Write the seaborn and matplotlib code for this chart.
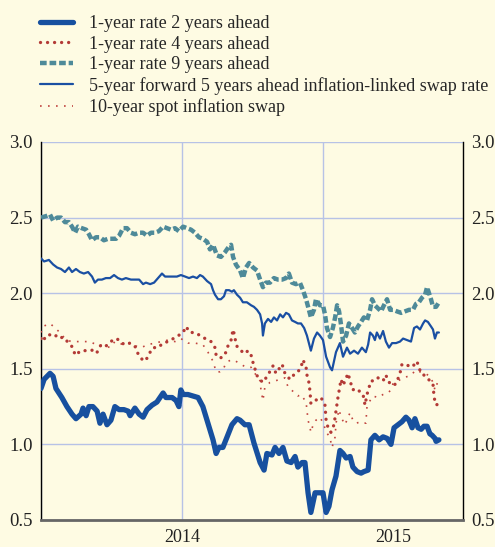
import matplotlib
matplotlib.use("Agg")
import matplotlib.pyplot as plt
import seaborn as sns
import pandas as pd

# time axis: years after 1 Jan 2014
t_2y = [0.000, 0.011, 0.032, 0.043, 0.053, 0.074, 0.092, 0.110, 0.124, 0.142, 0.149, 0.160, 0.170, 0.184,
        0.199, 0.209, 0.220, 0.234, 0.248, 0.262, 0.277, 0.294, 0.309, 0.316, 0.333, 0.348, 0.362, 0.376,
        0.394, 0.411, 0.433, 0.443, 0.465, 0.479, 0.489, 0.496, 0.504, 0.521, 0.539, 0.557, 0.574, 0.592,
        0.610, 0.621, 0.631, 0.645, 0.660, 0.677, 0.695, 0.706, 0.723, 0.738, 0.755, 0.777, 0.791, 0.801,
        0.819, 0.830, 0.844, 0.858, 0.872, 0.887, 0.901, 0.911, 0.926, 0.936, 0.947, 0.957, 0.972, 0.989,
        1.000, 1.011, 1.021, 1.032, 1.046, 1.060, 1.071, 1.082, 1.096, 1.106, 1.121, 1.135, 1.145, 1.160,
        1.170, 1.184, 1.199, 1.213, 1.227, 1.241, 1.252, 1.266, 1.280, 1.294, 1.305, 1.316, 1.326, 1.337,
        1.348, 1.358, 1.369, 1.379, 1.387, 1.397, 1.401, 1.411]
rate_2y = [1.37, 1.43, 1.47, 1.45, 1.37, 1.31, 1.25, 1.20, 1.17, 1.20, 1.24, 1.19, 1.25, 1.25,
           1.22, 1.14, 1.20, 1.13, 1.16, 1.25, 1.23, 1.23, 1.22, 1.19, 1.24, 1.20, 1.18, 1.23,
           1.26, 1.28, 1.34, 1.31, 1.31, 1.29, 1.25, 1.36, 1.33, 1.33, 1.32, 1.31, 1.25, 1.14,
           1.03, 0.94, 0.98, 0.98, 1.05, 1.13, 1.17, 1.16, 1.13, 1.13, 1.01, 0.88, 0.83, 0.94,
           0.93, 0.98, 0.94, 0.98, 0.89, 0.88, 0.92, 0.85, 0.88, 0.88, 0.68, 0.55, 0.68, 0.68,
           0.68, 0.55, 0.59, 0.70, 0.79, 0.96, 0.94, 0.91, 0.92, 0.85, 0.82, 0.81, 0.82, 0.83,
           1.03, 1.06, 1.03, 1.05, 1.04, 1.00, 1.11, 1.13, 1.15, 1.18, 1.16, 1.11, 1.17, 1.11,
           1.10, 1.12, 1.12, 1.07, 1.06, 1.04, 1.02, 1.03]

t_4y = [0.000, 0.007, 0.018, 0.046, 0.064, 0.078, 0.099, 0.113, 0.121, 0.142, 0.160, 0.177, 0.191, 0.199,
        0.213, 0.230, 0.248, 0.262, 0.280, 0.294, 0.316, 0.333, 0.344, 0.355, 0.365, 0.376, 0.387, 0.397,
        0.415, 0.433, 0.450, 0.479, 0.504, 0.514, 0.528, 0.546, 0.564, 0.582, 0.603, 0.617, 0.621, 0.635,
        0.652, 0.660, 0.674, 0.681, 0.688, 0.691, 0.702, 0.716, 0.723, 0.734, 0.745, 0.752, 0.762, 0.769,
        0.787, 0.805, 0.823, 0.833, 0.848, 0.855, 0.865, 0.883, 0.901, 0.911, 0.922, 0.929, 0.940, 0.943,
        0.950, 0.954, 0.957, 0.972, 0.993, 1.007, 1.011, 1.018, 1.028, 1.039, 1.046, 1.053, 1.064, 1.071,
        1.089, 1.096, 1.106, 1.113, 1.131, 1.142, 1.149, 1.156, 1.170, 1.184, 1.195, 1.213, 1.223, 1.230,
        1.245, 1.259, 1.273, 1.280, 1.294, 1.312, 1.326, 1.333, 1.340, 1.348, 1.365, 1.379, 1.390, 1.394,
        1.401, 1.411]
rate_4y = [1.70, 1.68, 1.72, 1.73, 1.70, 1.71, 1.67, 1.64, 1.59, 1.62, 1.62, 1.62, 1.63, 1.61,
           1.66, 1.65, 1.68, 1.70, 1.69, 1.66, 1.67, 1.65, 1.60, 1.57, 1.55, 1.57, 1.61, 1.64,
           1.64, 1.67, 1.68, 1.71, 1.74, 1.78, 1.74, 1.74, 1.72, 1.70, 1.68, 1.64, 1.59, 1.57,
           1.59, 1.64, 1.69, 1.76, 1.71, 1.66, 1.63, 1.61, 1.60, 1.62, 1.59, 1.54, 1.48, 1.44,
           1.41, 1.46, 1.52, 1.47, 1.51, 1.53, 1.47, 1.43, 1.47, 1.48, 1.51, 1.56, 1.51, 1.46,
           1.41, 1.35, 1.27, 1.29, 1.31, 1.26, 1.16, 1.11, 1.08, 1.13, 1.22, 1.31, 1.43, 1.39,
           1.47, 1.42, 1.36, 1.37, 1.35, 1.33, 1.26, 1.33, 1.42, 1.42, 1.44, 1.42, 1.46, 1.42,
           1.39, 1.40, 1.47, 1.53, 1.53, 1.51, 1.53, 1.55, 1.51, 1.47, 1.45, 1.42, 1.40, 1.31,
           1.26, 1.27]

t_9y = [0.000, 0.018, 0.032, 0.043, 0.057, 0.071, 0.085, 0.099, 0.110, 0.121, 0.131, 0.145, 0.160, 0.170,
        0.181, 0.195, 0.209, 0.223, 0.238, 0.252, 0.266, 0.277, 0.291, 0.305, 0.319, 0.333, 0.348, 0.362,
        0.376, 0.390, 0.404, 0.418, 0.433, 0.447, 0.461, 0.475, 0.489, 0.504, 0.518, 0.532, 0.546, 0.560,
        0.574, 0.589, 0.599, 0.610, 0.624, 0.638, 0.652, 0.667, 0.674, 0.681, 0.691, 0.706, 0.716, 0.727,
        0.738, 0.752, 0.766, 0.777, 0.787, 0.798, 0.812, 0.826, 0.840, 0.855, 0.869, 0.879, 0.890, 0.904,
        0.918, 0.929, 0.940, 0.950, 0.957, 0.968, 0.975, 0.989, 1.000, 1.007, 1.014, 1.025, 1.035, 1.043,
        1.050, 1.057, 1.064, 1.071, 1.082, 1.092, 1.103, 1.113, 1.124, 1.135, 1.145, 1.156, 1.167, 1.174,
        1.184, 1.195, 1.206, 1.216, 1.227, 1.238, 1.248, 1.262, 1.277, 1.291, 1.305, 1.319, 1.330, 1.340,
        1.351, 1.362, 1.369, 1.376, 1.383, 1.390, 1.401, 1.411]
rate_9y = [2.50, 2.51, 2.52, 2.48, 2.50, 2.50, 2.47, 2.47, 2.44, 2.40, 2.44, 2.43, 2.42, 2.39,
           2.35, 2.37, 2.37, 2.35, 2.36, 2.36, 2.36, 2.38, 2.43, 2.43, 2.40, 2.39, 2.40, 2.40,
           2.38, 2.40, 2.40, 2.41, 2.44, 2.43, 2.42, 2.43, 2.41, 2.44, 2.43, 2.42, 2.40, 2.37,
           2.36, 2.34, 2.29, 2.32, 2.25, 2.24, 2.27, 2.31, 2.32, 2.24, 2.19, 2.15, 2.10, 2.17,
           2.20, 2.17, 2.15, 2.09, 2.04, 2.07, 2.07, 2.10, 2.09, 2.09, 2.10, 2.13, 2.07, 2.06,
           2.07, 2.02, 1.96, 1.89, 1.84, 1.89, 1.96, 1.92, 1.92, 1.86, 1.77, 1.71, 1.77, 1.84,
           1.92, 1.88, 1.79, 1.68, 1.72, 1.80, 1.77, 1.74, 1.78, 1.81, 1.84, 1.82, 1.89, 1.96,
           1.92, 1.90, 1.88, 1.92, 1.96, 1.89, 1.89, 1.88, 1.87, 1.88, 1.89, 1.89, 1.93, 1.94,
           1.97, 1.99, 2.04, 2.00, 1.96, 1.91, 1.91, 1.94]

t_5y5y = [0.000, 0.011, 0.028, 0.043, 0.057, 0.071, 0.085, 0.099, 0.110, 0.124, 0.138, 0.152, 0.167, 0.181,
          0.191, 0.202, 0.216, 0.230, 0.245, 0.259, 0.273, 0.287, 0.301, 0.319, 0.333, 0.348, 0.362, 0.372,
          0.387, 0.401, 0.415, 0.429, 0.440, 0.454, 0.468, 0.482, 0.496, 0.511, 0.525, 0.539, 0.553, 0.564,
          0.574, 0.589, 0.603, 0.610, 0.617, 0.628, 0.638, 0.649, 0.656, 0.667, 0.677, 0.684, 0.695, 0.706,
          0.716, 0.730, 0.745, 0.755, 0.766, 0.777, 0.784, 0.787, 0.794, 0.805, 0.816, 0.826, 0.837, 0.848,
          0.858, 0.869, 0.879, 0.890, 0.901, 0.911, 0.922, 0.933, 0.943, 0.957, 0.968, 0.979, 0.989, 1.000,
          1.011, 1.025, 1.032, 1.046, 1.060, 1.071, 1.085, 1.096, 1.110, 1.124, 1.138, 1.152, 1.160, 1.167,
          1.177, 1.184, 1.191, 1.202, 1.213, 1.223, 1.234, 1.245, 1.259, 1.273, 1.284, 1.298, 1.312, 1.323,
          1.333, 1.344, 1.355, 1.362, 1.372, 1.383, 1.390, 1.397, 1.404, 1.411]
swap_5y5y = [2.23, 2.21, 2.22, 2.19, 2.17, 2.16, 2.14, 2.17, 2.14, 2.16, 2.14, 2.13, 2.14, 2.11,
             2.07, 2.09, 2.09, 2.10, 2.10, 2.12, 2.10, 2.09, 2.10, 2.09, 2.09, 2.09, 2.06, 2.07,
             2.06, 2.07, 2.10, 2.13, 2.11, 2.11, 2.11, 2.11, 2.12, 2.11, 2.10, 2.11, 2.10, 2.12,
             2.11, 2.08, 2.06, 2.02, 1.99, 1.96, 1.96, 1.98, 2.02, 2.02, 2.01, 2.02, 1.99, 1.97,
             1.94, 1.94, 1.92, 1.91, 1.89, 1.86, 1.80, 1.72, 1.80, 1.83, 1.81, 1.84, 1.82, 1.86,
             1.84, 1.87, 1.86, 1.82, 1.81, 1.80, 1.80, 1.77, 1.72, 1.62, 1.70, 1.74, 1.72, 1.69,
             1.58, 1.51, 1.49, 1.61, 1.67, 1.58, 1.64, 1.60, 1.62, 1.60, 1.64, 1.61, 1.66, 1.74,
             1.72, 1.69, 1.74, 1.70, 1.75, 1.68, 1.64, 1.67, 1.67, 1.68, 1.70, 1.69, 1.68, 1.77,
             1.78, 1.76, 1.80, 1.82, 1.81, 1.78, 1.76, 1.70, 1.74, 1.74]

t_spot = [0.000, 0.007, 0.032, 0.050, 0.067, 0.085, 0.106, 0.142, 0.174, 0.195, 0.230, 0.245, 0.262, 0.291,
          0.316, 0.337, 0.355, 0.379, 0.404, 0.426, 0.450, 0.475, 0.496, 0.521, 0.546, 0.574, 0.592, 0.610,
          0.621, 0.635, 0.645, 0.656, 0.674, 0.691, 0.709, 0.727, 0.745, 0.762, 0.777, 0.780, 0.787, 0.794,
          0.812, 0.830, 0.848, 0.865, 0.876, 0.894, 0.911, 0.922, 0.940, 0.947, 0.954, 0.957, 0.965, 0.975,
          0.989, 1.004, 1.007, 1.025, 1.032, 1.043, 1.046, 1.057, 1.064, 1.078, 1.089, 1.096, 1.106, 1.117,
          1.135, 1.152, 1.156, 1.167, 1.177, 1.195, 1.213, 1.230, 1.241, 1.248, 1.266, 1.284, 1.301, 1.312,
          1.319, 1.326, 1.344, 1.362, 1.379, 1.390, 1.397, 1.408]
spot_10y = [1.74, 1.78, 1.80, 1.77, 1.74, 1.70, 1.68, 1.68, 1.68, 1.66, 1.65, 1.64, 1.68, 1.66,
            1.67, 1.65, 1.64, 1.66, 1.67, 1.68, 1.69, 1.68, 1.70, 1.67, 1.67, 1.66, 1.61, 1.55,
            1.48, 1.48, 1.49, 1.54, 1.56, 1.55, 1.53, 1.51, 1.51, 1.46, 1.42, 1.36, 1.29, 1.38,
            1.41, 1.42, 1.43, 1.44, 1.38, 1.35, 1.32, 1.33, 1.28, 1.16, 1.11, 1.08, 1.13, 1.16,
            1.18, 1.13, 1.10, 1.04, 0.98, 1.05, 1.14, 1.23, 1.18, 1.13, 1.18, 1.21, 1.16, 1.14,
            1.15, 1.14, 1.25, 1.29, 1.32, 1.31, 1.33, 1.34, 1.36, 1.40, 1.42, 1.44, 1.45, 1.46,
            1.47, 1.49, 1.48, 1.47, 1.45, 1.41, 1.36, 1.42]

labels = ["1-year rate 2 years ahead", "1-year rate 4 years ahead", "1-year rate 9 years ahead",
          "5-year forward 5 years ahead inflation-linked swap rate", "10-year spot inflation swap"]
y_ticks = [0.5, 1.0, 1.5, 2.0, 2.5, 3.0]
year_labels = ["2014", "2015"]

sns.set_style("white")
plt.rcParams["font.family"] = ["Liberation Serif", "DejaVu Serif"]

bg = "#fefbe3"
grid_c = "#b7c2e6"
fig = plt.figure(figsize=(4.95, 5.47), dpi=100, facecolor=bg)
ax = fig.add_axes([41 / 495, 1 - 520 / 547, 422 / 495, 378 / 547])
ax.set_facecolor(bg)

sns.lineplot(x=t_spot, y=spot_10y, ax=ax, color="#c0443f", lw=1.2,
             linestyle=(0, (1, 3.8)), label=labels[4], zorder=3)
sns.lineplot(x=t_4y, y=rate_4y, ax=ax, color="#b33a36", lw=2.4,
             linestyle=(0, (0.01, 2.1)), dash_capstyle="round", label=labels[1], zorder=4)
sns.lineplot(x=t_9y, y=rate_9y, ax=ax, color="#4e8a99", lw=3.2,
             linestyle=(0, (1.5, 0.65)), label=labels[2], zorder=4)
sns.lineplot(x=t_5y5y, y=swap_5y5y, ax=ax, color="#1a4fa3", lw=1.6, label=labels[3], zorder=5)
sns.lineplot(x=t_2y, y=rate_2y, ax=ax, color="#17509f", lw=3.8, label=labels[0], zorder=6)

ax.set_xlim(0, 422 / 282)
ax.set_ylim(0.5, 3.0)
ax.set_yticks(y_ticks)
ax.set_yticklabels([f"{v:.1f}" for v in y_ticks])
ax.set_xticks([0, 0.5, 1.0])
ax.set_xticklabels([])
ax.tick_params(axis="y", length=0, labelsize=13.5, labelright=True, pad=6, labelcolor="#222222")
ax.tick_params(axis="x", length=8, width=1.2, color="#222222", direction="out")
ax.grid(True, color=grid_c, lw=1)
ax.set_axisbelow(True)

for s in ["left", "right"]:
    ax.spines[s].set_color("black")
    ax.spines[s].set_linewidth(1)
ax.spines["top"].set_visible(False)
ax.spines["bottom"].set_color("#666666")
ax.spines["bottom"].set_linewidth(2)

tr = ax.get_xaxis_transform()
ax.text(0.5, -0.025, year_labels[0], transform=tr, ha="center", va="top", fontsize=13, color="#222222")
ax.text(1.25, -0.025, year_labels[1], transform=tr, ha="center", va="top", fontsize=13, color="#222222")

h, l = ax.get_legend_handles_labels()
order = [l.index(s) for s in labels]
ax.get_legend().remove()
fig.legend([h[i] for i in order], [l[i] for i in order], loc="upper left",
           bbox_to_anchor=(40 / 495, 1 - 15 / 547), frameon=False, fontsize=13,
           handlelength=1.85, handletextpad=0.85, labelspacing=0.2, borderpad=0, borderaxespad=0)

fig.savefig("out.png", dpi=100, facecolor=bg)
